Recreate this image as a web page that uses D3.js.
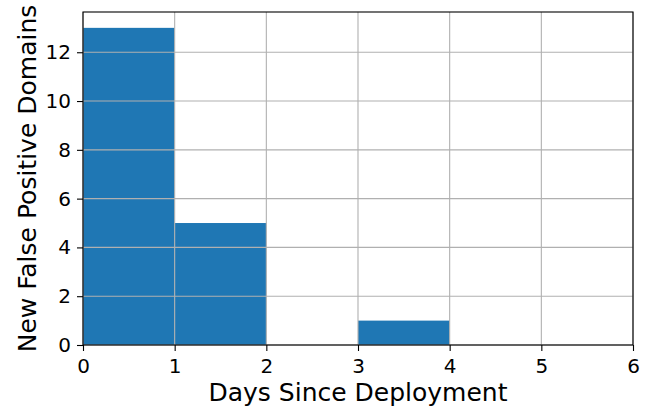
<!DOCTYPE html>
<html>
<head>
<meta charset="utf-8">
<script src="https://cdn.jsdelivr.net/npm/d3@7"></script>
<style>
  html, body { margin: 0; padding: 0; background: #fff; }
  svg { display: block; font-family: "DejaVu Sans", sans-serif; }
  .tick text { font-size: 20px; font-family: "DejaVu Sans", sans-serif; fill: #000; }
</style>
</head>
<body>
<svg id="chart" width="662" height="410"></svg>
<script>
// Histogram bins: [start, end) in days, with count of new false-positive domains
const binStarts = [0, 1, 2, 3, 4, 5];
const binEnds = [1, 2, 3, 4, 5, 6];
const counts = [13, 5, 0, 1, 0, 0];
const xTicks = [0, 1, 2, 3, 4, 5, 6];
const yTicks = [0, 2, 4, 6, 8, 10, 12];

const svg = d3.select("#chart");
const margin = { left: 83, right: 29, top: 12, bottom: 65 };
const W = 662, H = 410;
const x = d3.scaleLinear().domain([0, 6]).range([margin.left, W - margin.right]);
const y = d3.scaleLinear().domain([0, 13.65]).range([H - margin.bottom, margin.top]);

// Bars
svg.append("g").selectAll("rect")
  .data(counts.map((c, i) => ({ s: binStarts[i], e: binEnds[i], c })))
  .join("rect")
  .attr("x", d => x(d.s))
  .attr("width", d => x(d.e) - x(d.s))
  .attr("y", d => y(d.c))
  .attr("height", d => y(0) - y(d.c))
  .attr("fill", "#1f77b4");

// Grid on top of bars
const grid = svg.append("g").attr("stroke", "#b0b0b0").attr("stroke-width", 1.1);
grid.selectAll(".gx").data(xTicks).join("line")
  .attr("x1", d => x(d)).attr("x2", d => x(d))
  .attr("y1", y(0)).attr("y2", y(13.65));
grid.selectAll(".gy").data(yTicks).join("line")
  .attr("y1", d => y(d)).attr("y2", d => y(d))
  .attr("x1", x(0)).attr("x2", x(6));

// Axes
const xAxis = svg.append("g")
  .attr("transform", `translate(0,${y(0)})`)
  .call(d3.axisBottom(x).tickValues(xTicks).tickFormat(d3.format("d")).tickSize(6).tickPadding(7.5));
const yAxis = svg.append("g")
  .attr("transform", `translate(${x(0)},0)`)
  .call(d3.axisLeft(y).tickValues(yTicks).tickFormat(d3.format("d")).tickSize(6).tickPadding(6));
[xAxis, yAxis].forEach(g => {
  g.attr("font-size", 20).attr("font-family", "DejaVu Sans");
  g.select(".domain").remove();
  g.selectAll("line").attr("stroke", "#000").attr("stroke-width", 1.1);
});

// Frame
svg.append("rect")
  .attr("x", x(0)).attr("y", y(13.65))
  .attr("width", x(6) - x(0)).attr("height", y(0) - y(13.65))
  .attr("fill", "none").attr("stroke", "#000").attr("stroke-width", 1.1);

// Axis labels
svg.append("text")
  .attr("x", (x(0) + x(6)) / 2).attr("y", 401)
  .attr("text-anchor", "middle").attr("font-size", 25)
  .text("Days Since Deployment");
svg.append("text")
  .attr("transform", `translate(36,${(y(0) + y(13.65)) / 2}) rotate(-90)`)
  .attr("text-anchor", "middle").attr("font-size", 25)
  .text("New False Positive Domains");
</script>
</body>
</html>
